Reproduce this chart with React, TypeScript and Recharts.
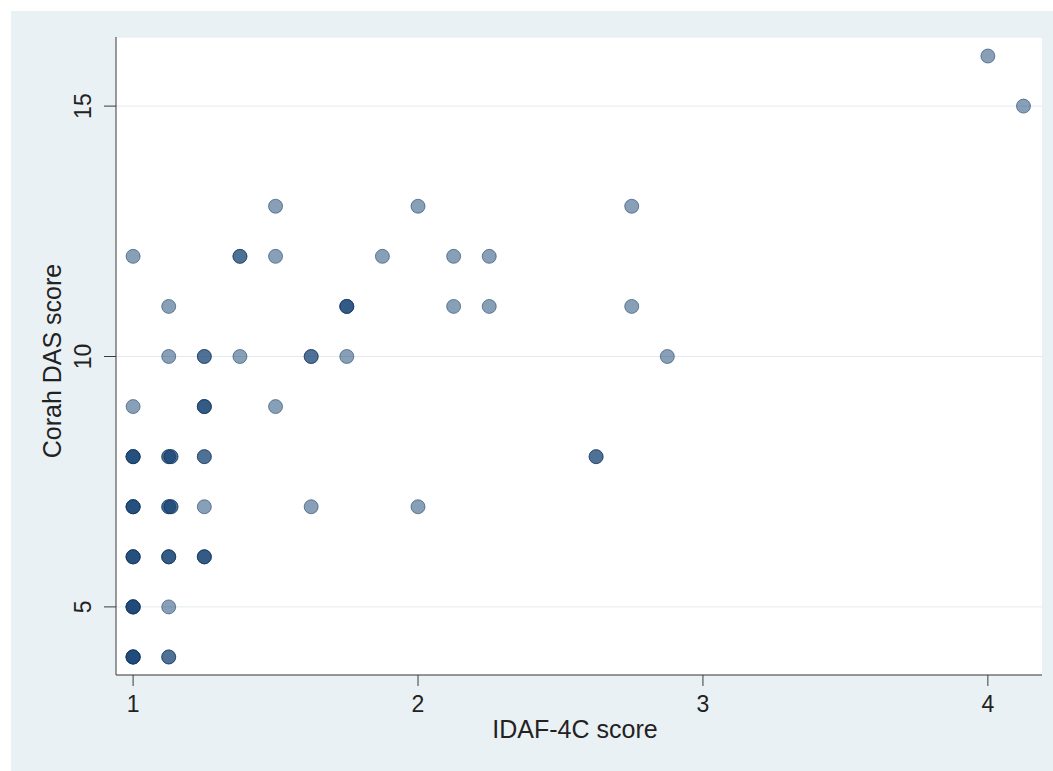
import React from 'react';
import { ScatterChart, Scatter, XAxis, YAxis, CartesianGrid } from 'recharts';

// one entry per distinct position; n = how many subjects sit on it
const idafScore = [
  4, 4.125,
  1.5, 2, 2.75,
  1, 1.375, 1.5, 1.875, 2.125, 2.25,
  1.125, 1.75, 2.125, 2.25, 2.75,
  1.125, 1.25, 1.375, 1.625, 1.75, 2.875,
  1, 1.25, 1.5,
  1, 1.125, 1.133, 1.25, 2.625,
  1, 1.125, 1.133, 1.25, 1.625, 2,
  1, 1.125, 1.25,
  1, 1.125,
  1, 1.125,
];
const corahScore = [
  16, 15,
  13, 13, 13,
  12, 12, 12, 12, 12, 12,
  11, 11, 11, 11, 11,
  10, 10, 10, 10, 10, 10,
  9, 9, 9,
  8, 8, 8, 8, 8,
  7, 7, 7, 7, 7, 7,
  6, 6, 6,
  5, 5,
  4, 4,
];
const subjects = [
  1, 1,
  1, 1, 1,
  1, 2, 1, 1, 1, 1,
  1, 3, 1, 1, 1,
  1, 2, 1, 2, 1, 1,
  1, 3, 1,
  4, 2, 2, 2, 2,
  4, 2, 2, 1, 1, 1,
  4, 3, 3,
  5, 1,
  5, 2,
];

const xTicks = [1, 2, 3, 4];
const yTicks = [5, 10, 15];

const data: { x: number; y: number }[] = [];
idafScore.forEach((x, i) => {
  for (let k = 0; k < subjects[i]; k++) data.push({ x, y: corahScore[i] });
});

const FONT = '"Liberation Sans", Arial, Helvetica, sans-serif';
const INK = '#222';

const Dot = (props: any) => (
  <circle
    cx={props.cx}
    cy={props.cy}
    r={7}
    fill="#1a4676"
    fillOpacity={0.52}
    stroke="#16385e"
    strokeOpacity={0.55}
    strokeWidth={1}
  />
);

const XTick = ({ x, y, payload }: any) => (
  <text x={x} y={y + 8} dy="0.71em" textAnchor="middle" fontSize={23} fill={INK} fontFamily={FONT}>
    {payload.value}
  </text>
);

const YTick = ({ y, payload }: any) => (
  <text
    x={80}
    y={y}
    transform={`rotate(-90 80 ${y})`}
    textAnchor="middle"
    fontSize={23}
    fill={INK}
    fontFamily={FONT}
  >
    {payload.value}
  </text>
);

export default function App() {
  return (
    <div
      style={{
        position: 'absolute',
        left: 11,
        top: 11,
        width: 1042,
        height: 760,
        background: '#eaf1f4',
      }}
    >
      <ScatterChart width={1042} height={760} margin={{ top: 26, right: 11, bottom: 0, left: 0 }}>
        <CartesianGrid fill="#ffffff" vertical={false} stroke="#e3eaee" strokeWidth={1} />
        <XAxis
          type="number"
          dataKey="x"
          domain={[0.94, 4.19]}
          ticks={xTicks}
          allowDataOverflow
          height={96}
          tickSize={11}
          stroke="#3a3a3a"
          tick={<XTick />}
          label={{
            content: ({ viewBox }: any) => (
              <text
                x={viewBox.x + viewBox.width / 2 - 4}
                y={viewBox.y + 63}
                textAnchor="middle"
                fontSize={25}
                fill={INK}
                fontFamily={FONT}
              >
                IDAF-4C score
              </text>
            ),
          }}
        />
        <YAxis
          type="number"
          dataKey="y"
          domain={[3.64, 16.38]}
          ticks={yTicks}
          allowDataOverflow
          width={105}
          tickSize={12}
          stroke="#3a3a3a"
          tick={<YTick />}
          label={{
            content: ({ viewBox }: any) => {
              const cy = viewBox.y + viewBox.height / 2 + 5;
              return (
                <text
                  x={50}
                  y={cy}
                  transform={`rotate(-90 50 ${cy})`}
                  textAnchor="middle"
                  fontSize={25}
                  fill={INK}
                  fontFamily={FONT}
                >
                  Corah DAS score
                </text>
              );
            },
          }}
        />
        <Scatter data={data} shape={<Dot />} isAnimationActive={false} />
      </ScatterChart>
    </div>
  );
}
